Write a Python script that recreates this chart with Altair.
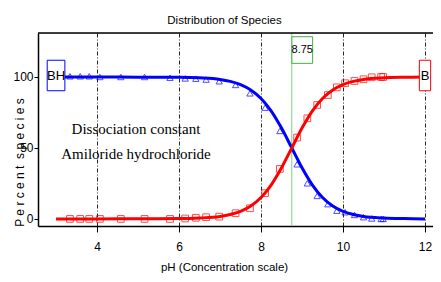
import altair as alt
import pandas as pd

# ---- data ----
ph_fit = [3.0, 4.0, 5.0, 6.0, 6.5, 7.0, 7.25, 7.5, 7.75, 8.0, 8.25, 8.5, 8.75,
          9.0, 9.25, 9.5, 9.75, 10.0, 10.25, 10.5, 11.0, 11.5, 12.0]
bh_fit = [100, 100, 99.9, 99.8, 99.4, 98.3, 96.9, 94.7, 90.9, 84.9, 76.0, 64.0, 50.0,
          36.0, 24.0, 15.1, 9.1, 5.3, 3.1, 1.7, 0.6, 0.2, 0.0]
b_fit = [0, 0, 0.1, 0.2, 0.6, 1.7, 3.1, 5.3, 9.1, 15.1, 24.0, 36.0, 50.0,
         64.0, 76.0, 84.9, 90.9, 94.7, 96.9, 98.3, 99.4, 99.8, 100]

ph_exp = [3.34, 3.59, 3.81, 4.07, 4.58, 5.16, 5.78, 6.15, 6.41, 6.66, 6.98, 7.38, 7.73,
          8.10, 8.46, 8.88, 9.13, 9.37, 9.63, 9.85, 10.05, 10.28, 10.50, 10.70, 10.93, 10.98]
bh_exp = [100.5, 100.5, 100.5, 100, 100, 100, 99.5, 99.0, 98.8, 98.2, 97.0, 94.4, 88.5,
          78.4, 62.0, 38.5, 25.1, 16.2, 10.4, 5.8, 4.7, 2.8, 1.2, 0.3, 0.0, 0.0]
b_exp = [0, 0, 0, 0, 0, 0, 0, 0.3, 0.8, 1.2, 1.6, 4.0, 7.5,
         18.1, 35.2, 57.3, 70.9, 80.3, 87.3, 92.7, 95.6, 97.2, 98.4, 99.8, 100, 100]

species = ["BH", "B"]
species_colors = ["#0000ff", "#ff0000"]
species_ph = [3.0, 12.0]
species_pct = [100, 100]

pka_ph = [8.75]
pka_label = ["8.75"]
pka_label_pct = [119]

note_lines = ["Dissociation constant", "Amiloride hydrochloride"]
note_ph = [4.95, 4.95]
note_pct = [63.4, 45.8]

x_ticks = [4, 6, 8, 10, 12]
y_ticks = [0, 50, 100]
x_domain = [2.56, 12.195]
y_domain = [-5, 131]

# ---- tables ----
fit_df = pd.DataFrame({
    "pH": ph_fit * 2,
    "pct": bh_fit + b_fit,
    "species": ["BH"] * len(ph_fit) + ["B"] * len(ph_fit),
})
exp_bh = pd.DataFrame({"pH": ph_exp, "pct": bh_exp})
exp_b = pd.DataFrame({"pH": ph_exp, "pct": b_exp})
lab_df = pd.DataFrame({"pH": species_ph, "pct": species_pct, "species": species})
pka_df = pd.DataFrame({"pH": pka_ph, "pct": pka_label_pct, "label": pka_label})
note_df = pd.DataFrame({"pH": note_ph, "pct": note_pct, "text": note_lines})

SANS = "Liberation Sans, Arial, sans-serif"
SERIF = "Liberation Serif, Times New Roman, serif"

x_axis = alt.Axis(values=x_ticks, title="pH (Concentration scale)", grid=True,
                  gridDash=[4, 2, 1, 2], gridColor="#000000", gridOpacity=0.85, gridWidth=1,
                  domainColor="#000000", domainWidth=1.5, tickColor="#000000", tickSize=6,
                  labelFont=SANS, labelFontSize=12, labelColor="#000000", labelPadding=9,
                  titleFont=SANS, titleFontSize=11.5, titleFontWeight="normal", titleColor="#000000",
                  titleX=186, titleY=44, titleAlign="center",
                  titleBaseline="alphabetic")
y_axis = alt.Axis(values=y_ticks, title="P e r c e n t \u00a0s p e c i e s", grid=False,
                  domainColor="#000000", domainWidth=1.5, tickColor="#000000", tickSize=4,
                  labelFont=SANS, labelFontSize=12, labelColor="#000000", labelPadding=1,
                  titleFont=SANS, titleFontSize=12, titleFontWeight="normal", titleColor="#000000",
                  titleAngle=-90, titleX=-15, titleY=129, titleAlign="center",
                  titleBaseline="alphabetic")


def X():
    return alt.X("pH:Q", scale=alt.Scale(domain=x_domain, nice=False, zero=False), axis=x_axis)


def Y():
    return alt.Y("pct:Q", scale=alt.Scale(domain=y_domain, nice=False, zero=False), axis=y_axis)


color_scale = alt.Scale(domain=species, range=species_colors)

pka_rule = alt.Chart(pka_df).mark_rule(color="#80d080", strokeWidth=1).encode(x=X())

lines = alt.Chart(fit_df).mark_line(strokeWidth=3, interpolate="monotone").encode(
    x=X(), y=Y(),
    color=alt.Color("species:N", scale=color_scale, legend=None),
    detail="species:N",
)

tri = alt.Chart(exp_bh).mark_point(shape="triangle-up", size=40, filled=False,
                                   color="#0000ff", strokeWidth=1).encode(x=X(), y=Y())
sq = alt.Chart(exp_b).mark_point(shape="square", size=45, filled=False,
                                 color="#ff0000", strokeWidth=1).encode(x=X(), y=Y())

box_shapes = ["M-0.58,-1H0.58V1H-0.58Z", "M-0.37,-1H0.37V1H-0.37Z"]
lab_boxes = alt.Chart(lab_df).mark_point(size=930, filled=True, fill="white",
                                         strokeWidth=1, opacity=1, yOffset=-1.5).encode(
    x=X(), y=Y(),
    stroke=alt.Stroke("species:N", scale=color_scale, legend=None),
    shape=alt.Shape("species:N", scale=alt.Scale(domain=species, range=box_shapes), legend=None),
)
lab_text = alt.Chart(lab_df).mark_text(font=SANS, fontSize=13, color="#000000",
                                       baseline="middle", align="center", dy=-1).encode(
    x=X(), y=Y(), text="species:N")

pka_box = alt.Chart(pka_df).mark_point(shape="M-0.78,-1H0.78V1H-0.78Z", size=708, filled=True,
                                       fill="white", stroke="#40b040", strokeWidth=1,
                                       opacity=1, xOffset=10.5).encode(x=X(), y=Y())
pka_text = alt.Chart(pka_df).mark_text(font=SANS, fontSize=11, color="#000000",
                                       baseline="middle", align="center", dx=10.5).encode(
    x=X(), y=Y(), text="label:N")

notes = alt.Chart(note_df).mark_text(font=SERIF, fontSize=15, color="#000000",
                                     baseline="middle", align="center").encode(
    x=X(), y=Y(), text="text:N")

top_border = alt.Chart(pka_df).mark_rule(color="#000000", strokeWidth=1.5).encode(
    y=alt.value(0))

chart = alt.layer(
    pka_rule, lines, tri, sq, lab_boxes, lab_text, pka_box, pka_text, notes, top_border
).properties(
    width=395, height=193,
    title=alt.TitleParams("Distribution of Species", font=SANS, fontSize=11.5,
                          fontWeight="normal", color="#000000", anchor="middle",
                          dx=-11, offset=6),
    autosize=alt.AutoSizeParams(type="none"),
    padding={"left": 30, "top": 25, "right": 0, "bottom": 48},
).configure_view(stroke=None).configure(background="white")

chart.save("out.html", embed_options={"renderer": "svg", "actions": False})
